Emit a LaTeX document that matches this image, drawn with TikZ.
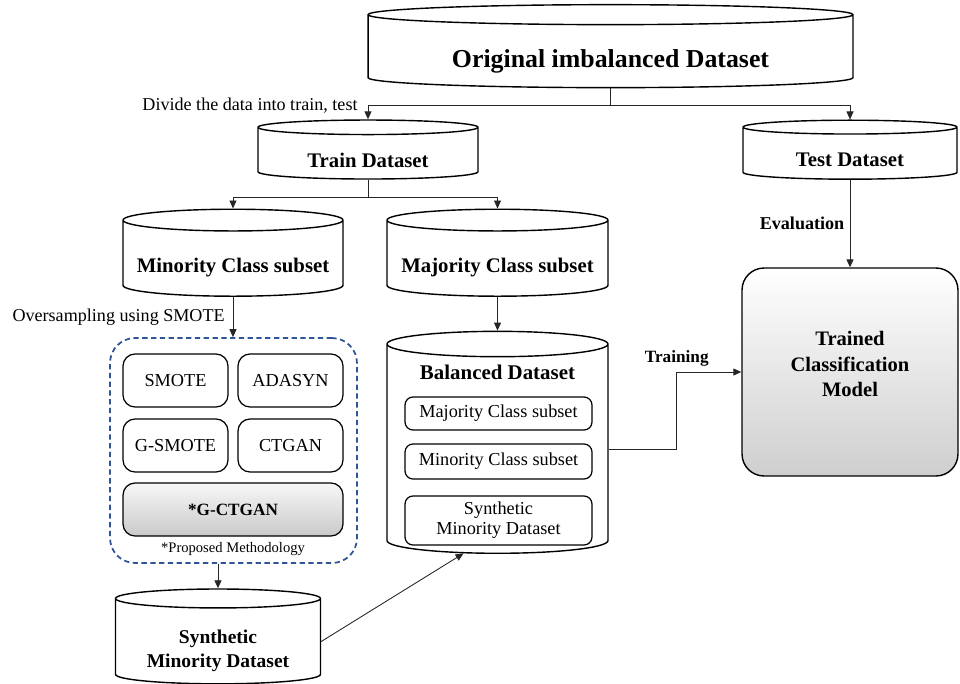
\documentclass[tikz,border=0pt]{standalone}
\usepackage{fontspec}
\setmainfont{Liberation Serif}
\usetikzlibrary{shapes.geometric,arrows.meta,calc}
\definecolor{groupblue}{HTML}{2F5597}
% pad the text box so that the text sits lower (#1) or higher (#2) in its node
\newcommand{\padtext}[3]{\raisebox{0pt}[\dimexpr\height+#1\relax][\dimexpr\depth+#2\relax]{#3}}

\begin{document}
\begin{tikzpicture}[x=0.02cm,y=-0.02cm,
  dbase/.style={cylinder,shape border rotate=90,draw,line width=0.8pt,inner sep=0pt,
    font=\bfseries\fontsize{11.8}{14}\selectfont},
  algbox/.style={draw,rounded corners=0.24cm,line width=0.7pt,inner sep=0pt,
    font=\fontsize{10.4}{11.5}\selectfont,align=center},
  notefont/.style={font=\fontsize{10.3}{12}\selectfont},
  link/.style={draw=black!85,line width=0.5pt},
  arr/.style={link,-{Triangle[length=1.6mm,width=1.4mm]}}]
\useasboundingbox (0,0) rectangle (960,683);

% datasets
\node[dbase,minimum width=9.7cm,minimum height=1.66cm,aspect=0.063,
  font=\bfseries\fontsize{14.7}{17}\selectfont] (orig) at (610.5,51.5)
  {\padtext{11.4pt}{0pt}{Original imbalanced Dataset}};
\node[dbase,minimum width=4.4cm,minimum height=1.18cm,aspect=0.12] (train) at (368,153.5)
  {\padtext{7.4pt}{0pt}{Train Dataset}};
\node[dbase,minimum width=4.28cm,minimum height=1.18cm,aspect=0.128] (test) at (850,153.5)
  {\padtext{7.4pt}{0pt}{Test Dataset}};
\node[dbase,minimum width=4.4cm,minimum height=1.74cm,aspect=0.113] (mino) at (233,258.5)
  {\padtext{10.2pt}{0pt}{Minority Class subset}};
\node[dbase,minimum width=4.42cm,minimum height=1.74cm,aspect=0.113] (majo) at (497.5,258.5)
  {\padtext{10.2pt}{0pt}{Majority Class subset}};
\node[dbase,minimum width=4.42cm,minimum height=4.44cm,aspect=0.165] (bal) at (497.5,449)
  {\phantom{Balanced Dataset}};
\node[dbase,minimum width=4.1cm,minimum height=1.66cm,aspect=0.133,
  font=\bfseries\fontsize{11.1}{13.6}\selectfont] (synth) at (218,641.5)
  {\padtext{10.2pt}{0pt}{\begin{tabular}{@{}c@{}}Synthetic\\Minority Dataset\end{tabular}}};

% contents of the balanced dataset
\node[font=\bfseries\fontsize{11.9}{14}\selectfont] (baltitle) at (497.5,372) {Balanced Dataset};
\node[algbox,rounded corners=0.16cm,minimum width=3.74cm,minimum height=0.66cm] (balmaj) at (498.5,413.5) {Majority Class subset};
\node[algbox,rounded corners=0.16cm,minimum width=3.74cm,minimum height=0.7cm] (balmin) at (498.5,461.5) {Minority Class subset};
\node[algbox,rounded corners=0.16cm,minimum width=3.74cm,minimum height=0.98cm] (balsyn) at (498.5,520.5) {Synthetic\\Minority Dataset};

% oversampling methods
\node[draw=groupblue,line width=1pt,dash pattern=on 3pt off 2pt,rounded corners=0.5cm,
  minimum width=4.94cm,minimum height=4.5cm] (group) at (233.5,450.5) {};
\node[algbox,minimum width=2.1cm,minimum height=1.06cm] (smote) at (175.5,380.5) {SMOTE};
\node[algbox,minimum width=2.1cm,minimum height=1.06cm] (adasyn) at (290.5,380.5) {ADASYN};
\node[algbox,minimum width=2.1cm,minimum height=1.06cm] (gsmote) at (175.5,445.5) {G-SMOTE};
\node[algbox,minimum width=2.1cm,minimum height=1.06cm] (ctgan) at (290.5,445.5) {CTGAN};
\node[algbox,minimum width=4.4cm,minimum height=1.06cm,top color=gray!6,bottom color=gray!42,
  font=\bfseries\fontsize{9.8}{12}\selectfont] (gctgan) at (233,509.5) {*G-CTGAN};
\node[font=\fontsize{8.3}{10}\selectfont] (propnote) at (233,549) {*Proposed Methodology};

% classifier
\node[draw,line width=0.8pt,rounded corners=0.44cm,top color=white,bottom color=gray!38,
  minimum width=4.32cm,minimum height=4.16cm,
  font=\bfseries\fontsize{11.7}{14.5}\selectfont] (model) at (850,372)
  {\padtext{0pt}{6.8pt}{\begin{tabular}{@{}c@{}}Trained\\Classification\\Model\end{tabular}}};

% connectors
\coordinate (split1) at ($(orig.south)+(0,17)$);
\draw[link] (orig.south) -- (split1);
\draw[arr] (split1) -| (train.north)
  node[pos=0.5,left=5.7pt,inner sep=0pt,notefont] {Divide the data into train, test};
\draw[arr] (split1) -| (test.north);
\coordinate (split2) at ($(train.south)+(0,18)$);
\draw[link] (train.south) -- (split2);
\draw[arr] (split2) -| (mino.north);
\draw[arr] (split2) -| (majo.north);
\draw[arr] (test.south) -- (test.south |- model.north)
  node[midway,left=3pt,inner sep=0pt,font=\bfseries\fontsize{10.3}{12}\selectfont] {Evaluation};
\draw[arr] (mino.south) -- (mino.south |- group.north)
  node[midway,left=4.5pt,inner sep=0pt,notefont] {Oversampling using SMOTE};
\draw[arr] (group.south -| synth.north) -- (synth.north);
\draw[arr] (synth.east) -- (bal.252);
\draw[arr] (majo.south) -- (bal.north);
\draw[arr] (bal.east) -- ++(68,0) |- (model.west)
  node[pos=0.5,above=3pt,inner sep=0pt,font=\bfseries\fontsize{9.8}{12}\selectfont] {Training};

\end{tikzpicture}
\end{document}
